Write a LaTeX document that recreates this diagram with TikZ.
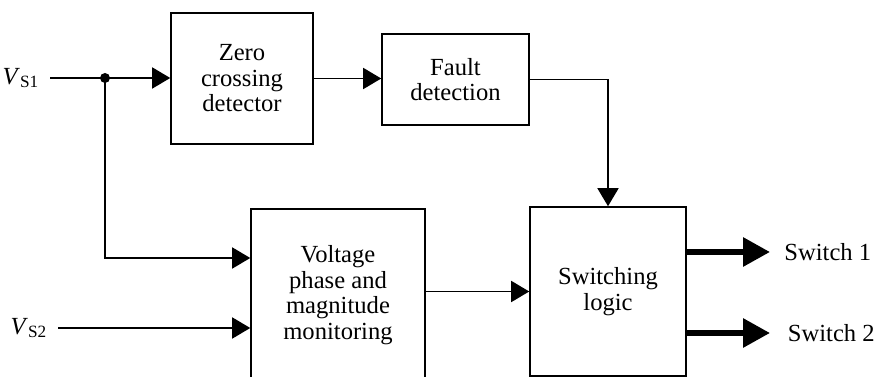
\documentclass[tikz,border=0pt]{standalone}
\usepackage{fontspec}
\setmainfont{Liberation Serif}
\usetikzlibrary{positioning,calc,arrows.meta}

\begin{document}
\begin{tikzpicture}[
	x=0.02cm, y=-0.02cm,
	font=\fontsize{14}{14.5}\selectfont,
	block/.style={rectangle, draw, line width=0.9pt, align=center, inner sep=0pt},
	line/.style={draw, line width=0.9pt, -{Triangle[length=0.36cm,width=0.42cm]}},
	wire/.style={draw, line width=0.9pt},
	thickline/.style={draw, line width=3.4pt, -{Triangle[length=0.54cm,width=0.56cm]}},
	sig/.style={inner xsep=6pt, inner ysep=2pt},
	]
	\path[use as bounding box, clip] (0,0) rectangle (874,377);

	\node[block, minimum width=2.84cm, minimum height=2.62cm] (zcd) at (242,78.5) {Zero\\crossing\\detector};
	\node[block, minimum width=2.94cm, minimum height=1.82cm] (fault) at (455.5,79.5) {Fault\\detection};
	\node[block, minimum width=3.48cm, minimum height=3.44cm] (vpm) at (338,295) {Voltage\\phase and\\magnitude\\monitoring};
	\node[block, minimum width=3.12cm, minimum height=3.38cm] (sw) at (608,291.5) {Switching\\logic};

	\node[sig, anchor=east] (vs1) at (50,78) {\textit{V}\textsubscript{S1}};
	\node[sig, anchor=east] (vs2) at (58,328) {\textit{V}\textsubscript{S2}};
	\node[sig, anchor=west, inner xsep=8pt] (sw1) at (770,252) {Switch 1};
	\node[sig, anchor=west, inner xsep=10pt] (sw2) at (770,333) {Switch 2};
	\coordinate (jn) at (105,78);

	%connections
	\path[wire] (vs1.east) -- (jn);
	\fill (jn) circle[radius=5];
	\path[line] (jn) -- (jn -| zcd.west);
	\path[line] (zcd.east) -- (zcd.east -| fault.west);
	\path[line] (fault.east) -| (sw.north);
	\path[line] (jn) |- ($(vpm.west)+(0,-37)$);
	\path[line] (vs2.east) -- (vs2.east -| vpm.west);
	\path[line] (vpm.east |- sw.west) -- (sw.west);
	\path[thickline] (sw.east |- sw1.west) -- (sw1.west);
	\path[thickline] (sw.east |- sw2.west) -- (sw2.west);
\end{tikzpicture}
\end{document}
